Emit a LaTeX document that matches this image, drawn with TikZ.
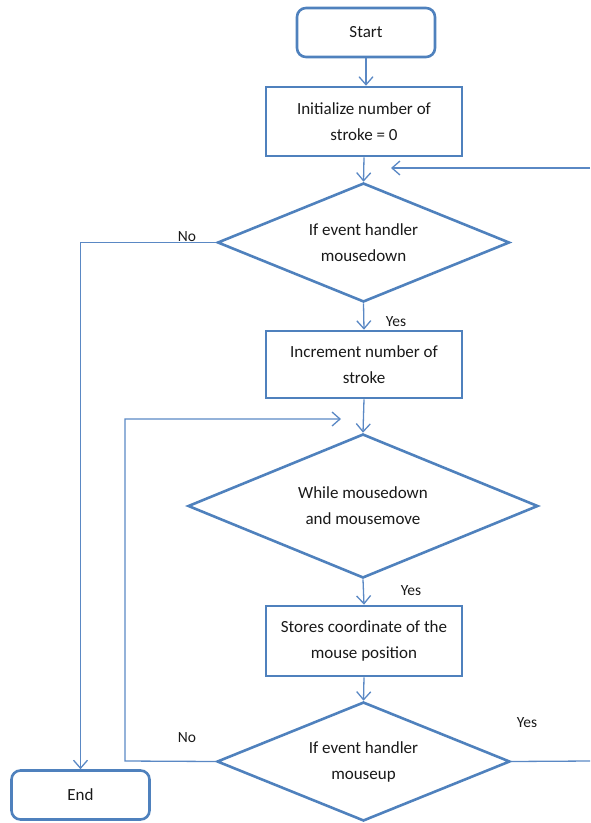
\documentclass[tikz,border=0pt]{standalone}
\usepackage{fontspec}
\setmainfont{Carlito}
\usetikzlibrary{shapes.geometric,arrows.meta}
\definecolor{shapeblue}{HTML}{4F81BD}
\definecolor{lineblue}{HTML}{5A88C4}
\begin{document}
\begin{tikzpicture}[x=1pt,y=-1pt,
  every node/.style={font=\fontsize{17}{26}\selectfont, text=black!90},
  terminal/.style={draw=shapeblue, line width=2.6pt, rounded corners=9pt, rectangle, minimum width=138pt, minimum height=49pt, inner sep=0pt},
  process/.style={draw=shapeblue, line width=2.6pt, rectangle, align=center, minimum width=196pt, inner sep=0pt},
  decision/.style={draw=shapeblue, line width=2.6pt, diamond, aspect=3, align=center, inner sep=0pt},
  flow/.style={draw=lineblue, line width=1.3pt, -{Straight Barb[length=8pt,width=14pt,line width=1.3pt]}},
  plain/.style={draw=lineblue, line width=1.3pt},
  lbl/.style={font=\fontsize{15.5}{18}\selectfont, inner sep=0pt}]
\useasboundingbox (0,0) rectangle (590,823);

% boxes and decisions
\node[terminal] (start) at (366,32.5) {Start};
\node[process, minimum height=69pt] (init) at (364,121.5) {Initialize number of\\stroke = 0};
\node[decision, minimum width=292pt, minimum height=119pt] (d1) at (363.5,242.5) {If event handler\\mousedown};
\node[process, minimum height=67pt] (inc) at (364,364.5) {Increment number of\\stroke};
\node[decision, minimum width=350pt, minimum height=144pt] (d2) at (363,506) {While mousedown\\and mousemove};
\node[process, minimum height=70pt] (store) at (364,641) {Stores coordinate of the\\mouse position};
\node[decision, minimum width=293pt, minimum height=119pt] (d3) at (363.5,761.5) {If event handler\\mouseup};
\node[terminal] (end) at (80.5,795) {End};

% free ends
\coordinate (inR) at (590,168);
\coordinate (inL) at (391,168);
\coordinate (loopL) at (125,761);
\coordinate (loopT) at (125,419);
\coordinate (loopE) at (341,419);
\coordinate (outR) at (590,761);

% connectors
\draw[flow] (start.south) -- (init.north -| start.south);
\draw[flow] (init.south) -- (d1.north);
\draw[flow] (inR) -- (inL);
\draw[flow] (d1.south) -- (inc.north);
\draw[flow] (inc.south) -- (d2.north);
\draw[flow] (d2.south) -- (store.north);
\draw[flow] (store.south) -- (d3.north);
\draw[flow] (d1.west) -| (end.north);
\draw[flow] (d3.west) -- (loopL) -- (loopT) -- (loopE);
\draw[plain] (d3.east) -- (outR);

% branch labels
\node[lbl] (n1) at (187,237) {No};
\node[lbl] (y1) at (396,322) {Yes};
\node[lbl] (y2) at (411,591) {Yes};
\node[lbl] (n2) at (187,738) {No};
\node[lbl] (y3) at (527,723) {Yes};
\end{tikzpicture}
\end{document}
